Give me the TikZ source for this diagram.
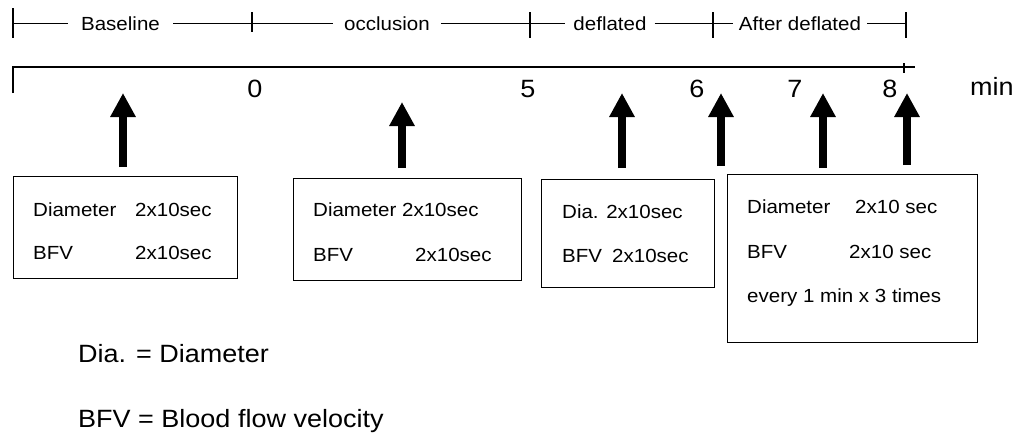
\documentclass[tikz,border=0pt]{standalone}
\usepackage{fontspec}
\setmainfont{Liberation Sans}[FakeStretch=1.08]
\usepackage{tikz}
\usetikzlibrary{arrows.meta}
\tikzset{thin line/.style={line width=1.2pt}}
\tikzset{bigarrow/.style={line width=8pt, -{Triangle[length=24pt, width=24pt]}}}
\tikzset{infobox/.style={draw, line width=1.1pt, anchor=north west, inner sep=0pt}}
\tikzset{boxtext/.style={font=\fontsize{19}{23}\selectfont, anchor=base west, inner sep=0pt}}
\tikzset{phase/.style={font=\fontsize{19}{23}\selectfont, inner ysep=0pt, inner xsep=10pt, text height=14pt, text depth=0pt}}
\tikzset{tnum/.style={font=\fontsize{25}{30}\selectfont, anchor=base, inner sep=0pt}}

\begin{document}
\begin{tikzpicture}[x=1pt, y=-1pt]
    \useasboundingbox (0, 0) rectangle (1021, 437);

    % phase bracket
    \coordinate (P0) at (13, 23.5);
    \coordinate (P1) at (252, 23.5);
    \coordinate (P2) at (530, 23.5);
    \coordinate (P3) at (713, 23.5);
    \coordinate (P4) at (906, 23.5);

    \node [phase, inner xsep=13pt] (base) at (120.5, 23.5) {Baseline};
    \node [phase, inner xsep=11pt] (occl) at (387, 23.5) {occlusion};
    \node [phase, inner xsep=8pt] (defl) at (610, 23.5) {deflated};
    \node [phase, inner xsep=6pt] (after) at (800, 23.5) {After deflated};

    \draw [thin line] (P0) -- (base.west);
    \draw [thin line] (base.east) -- (P1) -- (occl.west);
    \draw [thin line] (occl.east) -- (P2) -- (defl.west);
    \draw [thin line] (defl.east) -- (P3) -- (after.west);
    \draw [thin line] (after.east) -- (P4);

    \draw [thin line] (13, 8) -- (13, 38);
    \draw [thin line] (252, 12) -- (252, 32);
    \draw [thin line] (530, 12) -- (530, 38);
    \draw [thin line] (713, 12) -- (713, 38);
    \draw [thin line] (906, 12) -- (906, 38);

    % time axis
    \coordinate (A0) at (13, 67);
    \coordinate (A1) at (915, 67);
    \draw [line width=1.5pt] (13, 93) -- (A0) -- (A1);
    \draw [thin line] (904, 63) -- (904, 73);

    \node [tnum] (n0) at (255, 97) {0};
    \node [tnum] (n5) at (528, 97) {5};
    \node [tnum] (n6) at (697, 97) {6};
    \node [tnum] (n7) at (795, 97) {7};
    \node [tnum] (n8) at (890, 97) {8};
    \node [tnum, anchor=base west] (unit) at (970, 95) {min};

    % measurement arrows
    \coordinate (S1) at (123, 167);  \coordinate (T1) at (123, 93);
    \coordinate (S2) at (402, 168);  \coordinate (T2) at (402, 102);
    \coordinate (S3) at (622, 168);  \coordinate (T3) at (622, 93);
    \coordinate (S4) at (721, 166);  \coordinate (T4) at (721, 93);
    \coordinate (S5) at (823, 168);  \coordinate (T5) at (823, 93);
    \coordinate (S6) at (907, 165);  \coordinate (T6) at (907, 93);
    \foreach \i in {1,...,6}
        \draw [bigarrow] (S\i) -- (T\i);

    % boxes
    \node [infobox, minimum width=224pt, minimum height=102pt] (B1) at (13, 176) {};
    \node [infobox, minimum width=228pt, minimum height=102pt] (B2) at (293, 178) {};
    \node [infobox, minimum width=173pt, minimum height=108pt] (B3) at (541, 179) {};
    \node [infobox, minimum width=250pt, minimum height=168pt] (B4) at (727, 174) {};

    \node [boxtext] (d1) at (33, 216) {Diameter};
    \node [boxtext] (d1t) at (135, 216) {2x10sec};
    \node [boxtext] (v1) at (33, 259) {BFV};
    \node [boxtext] (v1t) at (135, 259) {2x10sec};

    \node [boxtext] (d2) at (313, 216) {Diameter 2x10sec};
    \node [boxtext] (v2) at (313, 261) {BFV};
    \node [boxtext] (v2t) at (415, 261) {2x10sec};

    \node [boxtext] (d3) at (562, 218) {Dia. 2x10sec};
    \node [boxtext] (v3) at (562, 262) {BFV};
    \node [boxtext] (v3t) at (612, 262) {2x10sec};

    \node [boxtext] (d4) at (747, 213) {Diameter};
    \node [boxtext] (d4t) at (855, 213) {2x10 sec};
    \node [boxtext] (v4) at (747, 258) {BFV};
    \node [boxtext] (v4t) at (849, 258) {2x10 sec};
    \node [boxtext] (e4) at (747, 302) {every 1 min x 3 times};

    % legend
    \node [boxtext, font=\fontsize{25}{30}\selectfont] (leg1) at (78, 362) {Dia. = Diameter};
    \node [boxtext, font=\fontsize{25}{30}\selectfont] (leg2) at (78, 427) {BFV = Blood flow velocity};

\end{tikzpicture}
\end{document}
